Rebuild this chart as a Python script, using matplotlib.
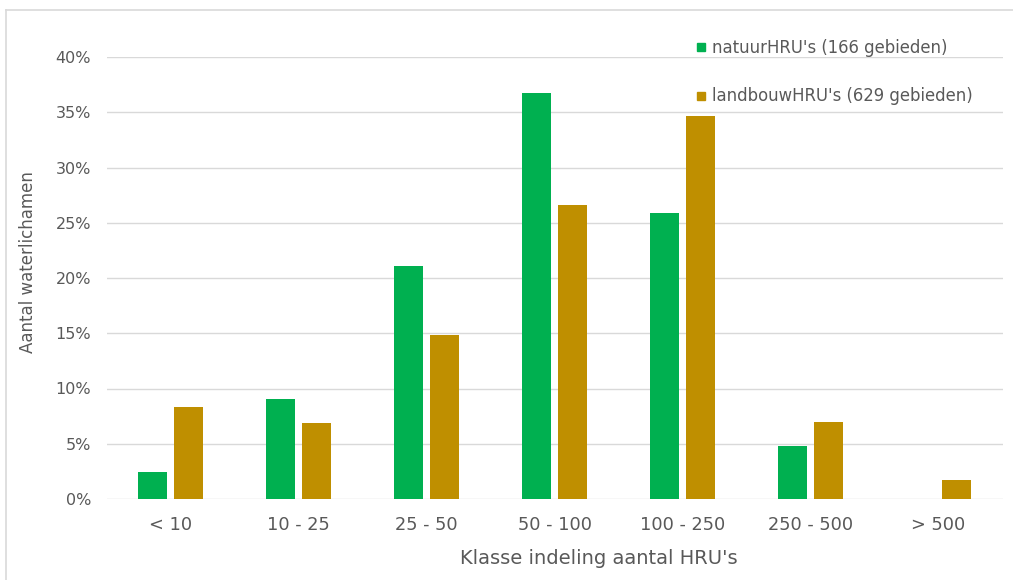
import numpy as np
import matplotlib.pyplot as plt
from matplotlib.lines import Line2D
from matplotlib.ticker import PercentFormatter

# Verdeling van waterlichamen over klassen van aantal HRU's (percentages)
klassen = ["< 10", "10 - 25", "25 - 50", "50 - 100", "100 - 250", "250 - 500", "> 500"]
natuur = [2.4, 9.05, 21.1, 36.7, 25.9, 4.8, 0.0]
landbouw = [8.3, 6.85, 14.8, 26.6, 34.65, 7.0, 1.75]

label_natuur = "natuurHRU's (166 gebieden)"
label_landbouw = "landbouwHRU's (629 gebieden)"

groen = "#00B050"
goud = "#BF8F00"
tekst = "#595959"
raster = "#D9D9D9"

W, H = 1013, 580
fig = plt.figure(figsize=(W / 100, H / 100), dpi=100)
fig.patch.set_facecolor("white")

# plotgebied in pixels
left, right, top, bottom = 106.5, 1002.5, 57, 499
ax = fig.add_axes([left / W, 1 - bottom / H, (right - left) / W, (bottom - top) / H])

x = np.arange(len(klassen))
breedte = 0.226
afstand = 0.28
ax.bar(x - afstand / 2, natuur, breedte, color=groen, zorder=3)
ax.bar(x + afstand / 2, landbouw, breedte, color=goud, zorder=3)

ax.set_xlim(-0.5, len(klassen) - 0.5)
ax.set_ylim(0, 40)
ax.set_yticks(np.arange(0, 41, 5))
ax.yaxis.set_major_formatter(PercentFormatter(decimals=0))
ax.set_xticks(x)
ax.set_xticklabels(klassen)
ax.grid(axis="y", color=raster, linewidth=1, zorder=0)
ax.set_axisbelow(True)
for s in ax.spines.values():
    s.set_visible(False)
ax.tick_params(length=0)
ax.tick_params(axis="y", labelsize=11.5, labelcolor=tekst, pad=11)
ax.tick_params(axis="x", labelsize=12.8, labelcolor=tekst, pad=12)

# astitels iets uit het midden geplaatst
ax.set_ylabel("Aantal waterlichamen", fontsize=12, color=tekst)
ax.yaxis.set_label_coords((37 - left) / (right - left), (bottom - 262) / (bottom - top))
ax.set_xlabel("Klasse indeling aantal HRU's", fontsize=14, color=tekst)
ax.xaxis.set_label_coords((599 - left) / (right - left), -(549 - bottom) / (bottom - top))

# legenda rechtsboven, zonder achtergrond
handles = [
    Line2D([], [], marker="s", linestyle="", markersize=6, color=groen),
    Line2D([], [], marker="s", linestyle="", markersize=6, color=goud),
]
leg = fig.legend(handles, [label_natuur, label_landbouw], loc="upper left",
                 bbox_to_anchor=(681 / W, 1 - 24 / H), frameon=False,
                 fontsize=11.9, labelcolor=tekst, handlelength=0.6,
                 handletextpad=0.35, labelspacing=1.85)

# kader rond de grafiek
fig.add_artist(Line2D([5.5 / W, 1], [1 - 9.5 / H, 1 - 9.5 / H], color=raster, linewidth=1.2))
fig.add_artist(Line2D([5.5 / W, 5.5 / W], [0, 1 - 9.5 / H], color=raster, linewidth=1.2))

fig.savefig("out.png", dpi=100, facecolor="white")
